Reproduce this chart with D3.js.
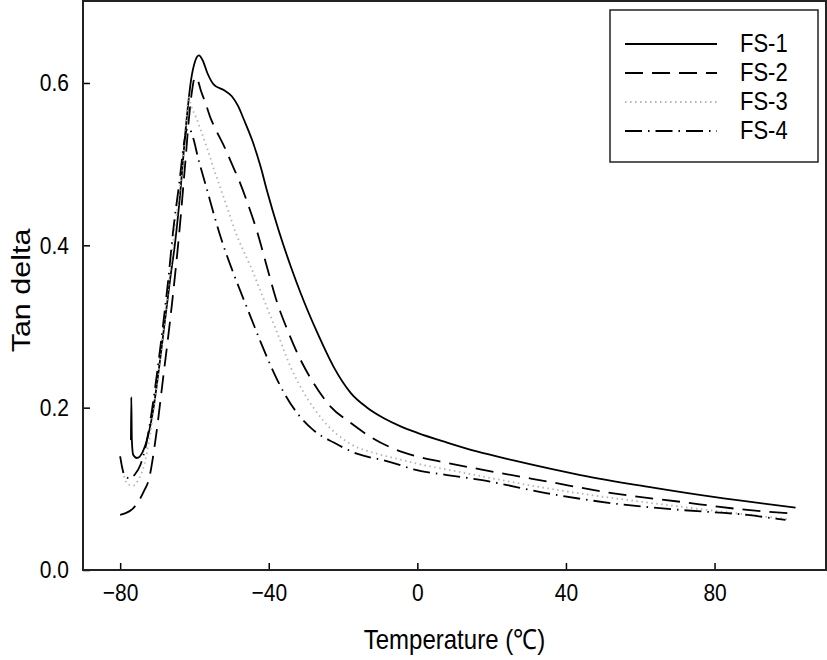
<!DOCTYPE html>
<html>
<head>
<meta charset="utf-8">
<script src="https://cdn.jsdelivr.net/npm/d3@7"></script>
<style>
  body { margin: 0; background: #fff; }
  svg { display: block; font-family: "Liberation Sans", Arial, sans-serif; }
</style>
</head>
<body>
<div id="chart"></div>
<script>
// Series: temperature (°C) and tan delta
const fs1Temp = [-77.1, -77.0, -76.85, -76.5, -75.5, -74, -72.5, -71, -69.5, -68, -66.5, -65.3, -64, -62.3, -60.9, -59.8, -58.8, -57.8, -56.5, -54.8, -52, -50, -48.3, -46.7, -44.5, -42.2, -40.4, -37.3, -34, -31.4, -26.9, -22.5, -17.9, -13.5, -9, -4.5, 0, 8, 16, 25.9, 43.9, 61.8, 79.7, 101.8];
const fs1Tan = [0.16, 0.213, 0.16, 0.142, 0.138, 0.145, 0.165, 0.2, 0.25, 0.305, 0.36, 0.4, 0.456, 0.546, 0.604, 0.627, 0.634, 0.628, 0.612, 0.598, 0.591, 0.584, 0.572, 0.555, 0.53, 0.497, 0.466, 0.418, 0.373, 0.341, 0.292, 0.25, 0.218, 0.2, 0.187, 0.177, 0.169, 0.157, 0.146, 0.135, 0.117, 0.1027, 0.09, 0.0768];

const fs2Temp = [-80, -78.5, -76.5, -75, -73.5, -72.3, -70.5, -68.5, -66, -64, -62.5, -61.3, -60.5, -59.9, -59, -58.3, -57, -55.6, -54.2, -51.5, -50.2, -48, -45.7, -43, -40.4, -37.7, -35, -32.3, -27.9, -23.3, -17.9, -12.6, -7.2, -0.9, 8, 17, 35, 52.8, 70.8, 88.8, 100.4];
const fs2Tan = [0.068, 0.07, 0.076, 0.085, 0.098, 0.111, 0.16, 0.234, 0.33, 0.42, 0.5, 0.565, 0.595, 0.607, 0.602, 0.591, 0.575, 0.556, 0.542, 0.517, 0.503, 0.48, 0.452, 0.415, 0.372, 0.329, 0.296, 0.267, 0.23, 0.201, 0.181, 0.164, 0.151, 0.141, 0.132, 0.124, 0.109, 0.0945, 0.084, 0.074, 0.0698];

const fs3Temp = [-80, -79.2, -78, -76.5, -75, -73.5, -72, -70.5, -69, -67.5, -66, -64.5, -63, -62.2, -61.6, -60.9, -59.6, -58.3, -56.4, -54.7, -52.8, -51, -49.4, -48.4, -44.8, -41.3, -37.7, -34.1, -30.5, -25.1, -17.9, -10.7, -4.5, -1, 10, 35, 70.8, 100.4];
const fs3Tan = [0.14, 0.12, 0.106, 0.104, 0.112, 0.13, 0.165, 0.215, 0.27, 0.33, 0.39, 0.45, 0.51, 0.555, 0.583, 0.572, 0.558, 0.542, 0.517, 0.493, 0.468, 0.444, 0.422, 0.41, 0.373, 0.333, 0.292, 0.25, 0.218, 0.183, 0.155, 0.143, 0.136, 0.132, 0.122, 0.1006, 0.078, 0.0624];

const fs4Temp = [-80, -79.4, -78.8, -77.5, -76, -74.5, -73, -71.5, -70, -68.5, -67, -65.8, -64, -62.8, -61.8, -60.9, -60.2, -59.2, -56.4, -54.7, -52.8, -50.2, -47.5, -44.8, -42.2, -39.5, -36.8, -32.3, -27.9, -22.5, -16.1, -9, -4.5, -1, 8, 17, 35, 52.8, 70.8, 88.8, 99.1];
const fs4Tan = [0.14, 0.125, 0.116, 0.113, 0.118, 0.13, 0.155, 0.195, 0.245, 0.3, 0.36, 0.415, 0.48, 0.526, 0.545, 0.54, 0.53, 0.511, 0.465, 0.437, 0.408, 0.374, 0.342, 0.311, 0.281, 0.252, 0.226, 0.193, 0.172, 0.157, 0.143, 0.135, 0.129, 0.124, 0.117, 0.111, 0.0945, 0.082, 0.074, 0.0678, 0.0616];

const seriesNames = ["FS-1", "FS-2", "FS-3", "FS-4"];
const xTicks = [-80, -40, 0, 40, 80];
const yTicks = [0, 0.2, 0.4, 0.6];

// Layout
const width = 827;
const height = 660;
const plotLeft = 83, plotRight = 826, plotTop = 1, plotBottom = 570;
const textStretch = 1.15; // reference text is taller than wide

const x = d3.scaleLinear().domain([-90, 110]).range([plotLeft, plotRight]);
const y = d3.scaleLinear().domain([0, 0.701]).range([plotBottom, plotTop]);

const styles = [
  { stroke: "#000", dash: null, width: 1.8 },
  { stroke: "#000", dash: "18,9", width: 1.8 },
  { stroke: "#b4b4b4", dash: "1.5,3.5", width: 1.8 },
  { stroke: "#000", dash: "17,6,1.5,6", width: 1.8 }
];

const series = [
  d3.zip(fs1Temp, fs1Tan),
  d3.zip(fs2Temp, fs2Tan),
  d3.zip(fs3Temp, fs3Tan),
  d3.zip(fs4Temp, fs4Tan)
];

const svg = d3.select("#chart")
  .append("svg")
  .attr("width", width)
  .attr("height", height);

// Curves
const line = d3.line()
  .x(d => x(d[0]))
  .y(d => y(d[1]))
  .curve(d3.curveMonotoneX);

svg.selectAll(".curve")
  .data(series)
  .join("path")
  .attr("class", "curve")
  .attr("d", line)
  .attr("fill", "none")
  .attr("stroke", (d, i) => styles[i].stroke)
  .attr("stroke-width", (d, i) => styles[i].width)
  .attr("stroke-dasharray", (d, i) => styles[i].dash);

// Axes with inward ticks
svg.append("g")
  .attr("transform", `translate(0,${plotBottom})`)
  .call(d3.axisBottom(x).tickValues(xTicks).tickSizeInner(-7).tickSizeOuter(0).tickPadding(12).tickFormat(d3.format("d")))
  .call(g => g.select(".domain").remove())
  .call(g => g.selectAll("line").attr("stroke", "#000").attr("stroke-width", 1.5))
  .call(g => g.selectAll("text")
    .attr("font-size", 21)
    .attr("fill", "#000")
    .attr("font-family", "Liberation Sans, Arial, sans-serif")
    .attr("transform", `scale(1,${textStretch})`));

svg.append("g")
  .attr("transform", `translate(${plotLeft},0)`)
  .call(d3.axisLeft(y).tickValues(yTicks).tickSizeInner(-7).tickSizeOuter(0).tickPadding(14).tickFormat(d3.format(".1f")))
  .call(g => g.select(".domain").remove())
  .call(g => g.selectAll("line").attr("stroke", "#000").attr("stroke-width", 1.5))
  .call(g => g.selectAll("text")
    .attr("font-size", 21)
    .attr("fill", "#000")
    .attr("font-family", "Liberation Sans, Arial, sans-serif")
    .attr("transform", `scale(1,${textStretch})`));

// Frame
svg.append("rect")
  .attr("x", plotLeft)
  .attr("y", plotTop)
  .attr("width", plotRight - plotLeft)
  .attr("height", plotBottom - plotTop)
  .attr("fill", "none")
  .attr("stroke", "#222")
  .attr("stroke-width", 2);

// Axis titles
svg.append("text")
  .attr("transform", `translate(${(plotLeft + plotRight) / 2},649) scale(1,${textStretch})`)
  .attr("text-anchor", "middle")
  .attr("font-size", 24)
  .text("Temperature (℃)");

svg.append("text")
  .attr("transform", `translate(30,${(plotTop + plotBottom) / 2 + 5}) rotate(-90) scale(1.22,1.05)`)
  .attr("text-anchor", "middle")
  .attr("font-size", 25)
  .text("Tan delta");

// Legend
const legend = svg.append("g");
legend.append("rect")
  .attr("x", 610)
  .attr("y", 10)
  .attr("width", 208)
  .attr("height", 152)
  .attr("fill", "#fff")
  .attr("stroke", "#222")
  .attr("stroke-width", 1.5);

const rows = legend.selectAll(".row")
  .data(seriesNames)
  .join("g")
  .attr("class", "row")
  .attr("transform", (d, i) => `translate(0,${44 + i * 29})`);

rows.append("line")
  .attr("x1", 625)
  .attr("x2", 717)
  .attr("stroke", (d, i) => styles[i].stroke)
  .attr("stroke-width", (d, i) => styles[i].width)
  .attr("stroke-dasharray", (d, i) => styles[i].dash);

rows.append("text")
  .attr("transform", `translate(740,8) scale(1,${textStretch})`)
  .attr("font-size", 22)
  .text(d => d);
</script>
</body>
</html>
